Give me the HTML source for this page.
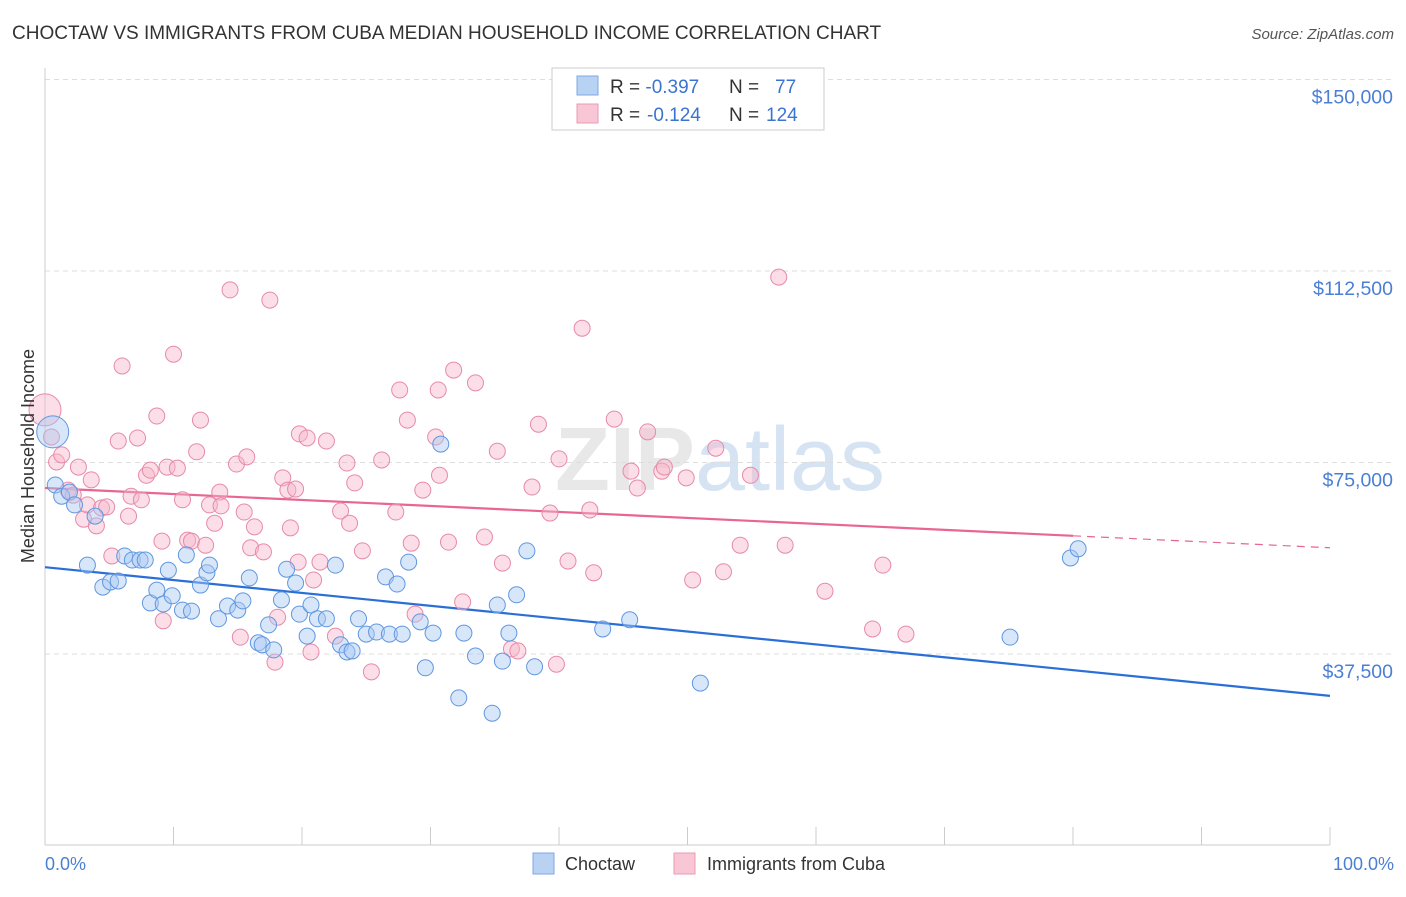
<!DOCTYPE html>
<html><head><meta charset="utf-8"><style>
body{margin:0;background:#fff;font-family:"Liberation Sans",sans-serif;}
svg text{font-family:"Liberation Sans",sans-serif;}
</style></head><body>
<svg id="chart" width="1406" height="892">
<text x="12" y="39" font-size="19" fill="#333">CHOCTAW VS IMMIGRANTS FROM CUBA MEDIAN HOUSEHOLD INCOME CORRELATION CHART</text>
<text x="1394" y="39" font-size="15" fill="#555" font-style="italic" text-anchor="end">Source: ZipAtlas.com</text>
<text x="720" y="490" font-size="90" fill="#e8e8e8" text-anchor="middle" font-weight="bold">ZIP<tspan fill="#d6e3f3" font-weight="normal">atlas</tspan></text>
<g id="grid"></g><g id="axes"></g><g id="trend"></g><g id="pts"></g>
<text x="34" y="456" font-size="18" fill="#333" text-anchor="middle" transform="rotate(-90 34 456)">Median Household Income</text>
<text x="45" y="870" font-size="18" fill="#4a7fd4">0.0%</text>
<text x="1394" y="870" font-size="18" fill="#4a7fd4" text-anchor="end">100.0%</text>
<g>
<rect x="533" y="853" width="21" height="21" fill="#b8d2f3" stroke="#7ea8e3"/>
<text x="565" y="870" font-size="18" fill="#333">Choctaw</text>
<rect x="674" y="853" width="21" height="21" fill="#f8c6d5" stroke="#ea9ab4"/>
<text x="707" y="870" font-size="18" fill="#333">Immigrants from Cuba</text>
</g>
<g>
<rect x="552" y="68" width="272" height="62" fill="#fff" stroke="#ccc"/>
<rect x="577" y="76" width="21" height="19" fill="#b8d2f3" stroke="#7ea8e3"/>
<rect x="577" y="104" width="21" height="19" fill="#f8c6d5" stroke="#ea9ab4"/>
<text x="610" y="93" font-size="19" fill="#333">R = <tspan fill="#3b74d0">-0.397</tspan><tspan x="729">N = </tspan><tspan x="775" fill="#3b74d0">77</tspan></text>
<text x="610" y="121" font-size="19" fill="#333">R = <tspan x="647" fill="#3b74d0">-0.124</tspan><tspan x="729">N = </tspan><tspan x="766" fill="#3b74d0">124</tspan></text>
</g>
</svg>
<script>
const yTicks=[37500,75000,112500,150000];
const yTickLabels=["$37,500","$75,000","$112,500","$150,000"];
const blueX=[0.6,0.8,1.3,1.9,2.3,3.9,3.3,4.5,5.1,5.7,6.2,6.8,7.4,7.8,8.2,8.7,9.2,9.6,9.9,10.7,11.0,11.4,12.1,12.6,12.8,13.5,14.2,15.0,15.4,15.9,16.6,16.9,17.4,17.8,18.4,18.8,19.5,19.8,20.4,20.7,21.2,21.9,22.6,23.0,23.5,23.9,24.4,25.0,25.8,26.5,26.8,27.4,27.8,28.3,29.2,29.6,30.2,30.8,32.2,32.6,33.5,34.8,35.2,35.6,36.1,36.7,37.5,38.1,43.4,45.5,51.0,75.1,79.8,80.4];
const blueY=[81.0,70.6,68.4,69.2,66.7,64.5,54.9,50.6,51.6,51.8,56.7,55.9,55.9,55.9,47.5,50.0,47.3,53.9,48.9,46.1,56.9,45.9,51.0,53.4,54.9,44.4,46.9,46.1,47.9,52.4,39.7,39.3,43.2,38.3,48.1,54.1,51.4,45.3,41.0,47.1,44.4,44.4,54.9,39.3,37.9,38.1,44.4,41.4,41.8,52.6,41.4,51.2,41.4,55.5,43.8,34.8,41.6,78.6,28.9,41.6,37.1,25.9,47.1,36.1,41.6,49.1,57.7,35.0,42.4,44.2,31.8,40.8,56.3,58.1];
const pinkX=[0,0.5,0.9,1.3,1.8,2.2,2.6,3.0,3.3,3.6,4.0,4.4,4.8,5.2,5.7,6.0,6.5,6.7,7.2,7.5,7.9,8.2,8.7,9.1,9.2,9.5,10.0,10.3,10.7,11.1,11.4,11.8,12.1,12.5,12.8,13.2,13.6,13.7,14.4,14.9,15.2,15.5,15.7,16.0,16.3,17.0,17.5,17.9,18.1,18.5,18.9,19.1,19.5,19.7,19.8,20.4,20.7,20.9,21.4,21.9,22.6,23.0,23.5,23.7,24.1,24.7,25.4,26.2,27.3,27.6,28.2,28.5,28.8,29.4,30.4,30.6,30.7,31.4,31.8,32.5,33.5,34.2,35.2,35.6,36.3,36.8,37.9,38.4,39.3,39.8,40.0,40.7,41.8,42.4,42.7,44.3,45.6,46.1,46.9,48.0,48.2,49.9,50.4,52.2,52.8,54.1,54.9,57.1,57.6,60.7,64.4,65.2,67.0];
const pinkY=[85.3,80.0,75.1,76.5,69.6,68.6,74.1,63.9,66.7,71.6,62.6,66.1,66.3,56.7,79.2,93.9,64.5,68.4,79.8,67.7,72.5,73.5,84.1,59.6,44.0,74.1,96.2,73.9,67.7,59.8,59.6,77.1,83.3,58.8,66.7,63.1,69.2,66.5,108.8,74.7,40.8,65.3,76.1,58.3,62.4,57.5,106.8,35.9,44.7,72.0,69.6,62.2,69.8,55.5,80.6,79.8,37.9,52.0,55.5,79.2,41.0,65.5,74.9,63.1,71.0,57.7,34.0,75.5,65.3,89.2,83.3,59.2,45.3,69.6,80.0,89.2,72.5,59.4,93.1,47.7,90.6,60.4,77.2,55.3,38.5,38.1,70.2,82.5,65.1,35.5,75.7,55.7,101.3,65.7,53.4,83.5,73.3,70.0,81.0,73.3,74.1,72.0,52.0,77.8,53.6,58.8,72.5,111.3,58.8,49.8,42.4,54.9,41.4];
const blueTrend=[54.5,29.3];
const pinkTrend=[70.0,58.3];
const pinkSolidEnd=80;
const NS="http://www.w3.org/2000/svg";
const xs=p=>45+p*12.85;
const ys=v=>654-(v-37.5)*191.5/37.5;
function mk(tag,at,parent){const e=document.createElementNS(NS,tag);for(const k in at)e.setAttribute(k,at[k]);document.getElementById(parent).appendChild(e);return e;}
yTicks.forEach((t,i)=>{
 const y=ys(t/1000);
 const l=mk('line',{x1:45,x2:1394,y1:y,y2:y,stroke:'#ddd','stroke-dasharray':'5,4'},'grid');
 
 
 const tx=mk('text',{x:1393,y:y+24,'font-size':19.5,fill:'#4a7fd4','text-anchor':'end'},'grid');
 tx.textContent=yTickLabels[i];
 
 
});
const ax=mk('line',{x1:45,x2:1330,y1:845,y2:845,stroke:'#ccc'},'axes');


const ay=mk('line',{x1:45,x2:45,y1:68,y2:845,stroke:'#ccc'},'axes');


for(let i=0;i<=10;i++){const t=mk('line',{x1:xs(i*10),x2:xs(i*10),y1:827,y2:845,stroke:'#ccc'},'axes');
 
 }
function pts(X,Y,fill,stroke,name){X.forEach((x,i)=>{const big=(i===0&&x<1&&Y[i]>80);
 const c=mk('circle',{cx:xs(x),cy:ys(Y[i]),r:big?16:8,fill:fill,'fill-opacity':0.45,stroke:stroke,'stroke-width':1},'pts');
 
 });}
pts(pinkX,pinkY,'#f6b6ca','#e78aa9','cuba-point');
pts(blueX,blueY,'#a9c8f1','#5f97e0','choctaw-point');
const bt=mk('line',{x1:xs(0),y1:ys(blueTrend[0]),x2:xs(100),y2:ys(blueTrend[1]),stroke:'#2a6fd8','stroke-width':2.2},'trend');


const pm=pinkTrend[0]+(pinkTrend[1]-pinkTrend[0])*pinkSolidEnd/100;
const pt=mk('line',{x1:xs(0),y1:ys(pinkTrend[0]),x2:xs(pinkSolidEnd),y2:ys(pm),stroke:'#e8668f','stroke-width':2.2},'trend');


const pd=mk('line',{x1:xs(pinkSolidEnd),y1:ys(pm),x2:xs(100),y2:ys(pinkTrend[1]),stroke:'#e8668f','stroke-width':1.2,'stroke-dasharray':'8,6'},'trend');


</script>
</body></html>
